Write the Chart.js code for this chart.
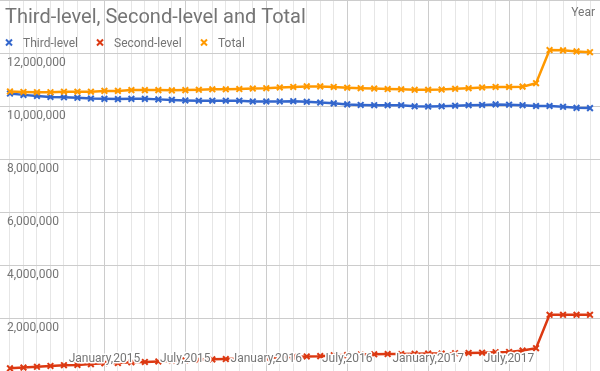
<!DOCTYPE html>
<html>
<head>
<meta charset="utf-8">
<script src="https://cdn.jsdelivr.net/npm/chart.js@4"></script>
<style>
  html, body { margin: 0; padding: 0; background: #fff; }
  #wrap { width: 600px; height: 371px; }
</style>
</head>
<body>
<div id="wrap"><canvas id="chart" width="600" height="371"></canvas></div>
<script>
// months from June 2014 to January 2018
const months = [
  'Jun 2014', 'Jul 2014', 'Aug 2014', 'Sep 2014', 'Oct 2014', 'Nov 2014', 'Dec 2014',
  'Jan 2015', 'Feb 2015', 'Mar 2015', 'Apr 2015', 'May 2015', 'Jun 2015',
  'Jul 2015', 'Aug 2015', 'Sep 2015', 'Oct 2015', 'Nov 2015', 'Dec 2015',
  'Jan 2016', 'Feb 2016', 'Mar 2016', 'Apr 2016', 'May 2016', 'Jun 2016',
  'Jul 2016', 'Aug 2016', 'Sep 2016', 'Oct 2016', 'Nov 2016', 'Dec 2016',
  'Jan 2017', 'Feb 2017', 'Mar 2017', 'Apr 2017', 'May 2017', 'Jun 2017',
  'Jul 2017', 'Aug 2017', 'Sep 2017', 'Oct 2017', 'Nov 2017', 'Dec 2017',
  'Jan 2018'
];

const thirdLevel = [
  10470000, 10420000, 10380000, 10340000, 10330000, 10310000, 10280000,
  10270000, 10260000, 10270000, 10270000, 10250000, 10230000,
  10210000, 10200000, 10200000, 10200000, 10200000, 10170000,
  10170000, 10170000, 10180000, 10160000, 10130000, 10100000,
  10060000, 10040000, 10030000, 10030000, 10030000, 9990000,
  9980000, 9990000, 10010000, 10030000, 10040000, 10060000,
  10050000, 10030000, 10000000, 10000000, 9970000, 9930000,
  9920000
];

const secondLevel = [
  100000, 130000, 160000, 190000, 220000, 230000, 260000,
  290000, 300000, 330000, 340000, 360000, 390000,
  400000, 430000, 440000, 450000, 460000, 480000,
  490000, 520000, 530000, 550000, 560000, 590000,
  600000, 620000, 630000, 640000, 640000, 650000,
  660000, 660000, 670000, 680000, 690000, 710000,
  720000, 770000, 860000, 2120000, 2120000, 2120000,
  2120000
];

const total = [
  10550000, 10530000, 10520000, 10520000, 10540000, 10540000, 10540000,
  10570000, 10570000, 10600000, 10600000, 10600000, 10590000,
  10600000, 10610000, 10630000, 10630000, 10640000, 10660000,
  10670000, 10700000, 10720000, 10740000, 10740000, 10720000,
  10690000, 10670000, 10660000, 10640000, 10630000, 10610000,
  10610000, 10620000, 10650000, 10670000, 10700000, 10720000,
  10720000, 10730000, 10860000, 12110000, 12100000, 12060000,
  12030000
];

const tickMonths = ['Jan 2015', 'Jul 2015', 'Jan 2016', 'Jul 2016', 'Jan 2017', 'Jul 2017'];
const tickLabels = ['January,2015', 'July,2015', 'January,2016', 'July,2016', 'January,2017', 'July,2017'];
const yTicks = [2000000, 4000000, 6000000, 8000000, 10000000, 12000000];

const seriesNames = ['Third-level', 'Second-level', 'Total'];
const seriesColors = ['#3366cc', '#dc3912', '#ff9900'];

const textColor = '#757575';
const majorIdx = tickMonths.map(m => months.indexOf(m));

function fmt(n) {
  return String(n).replace(/\B(?=(\d{3})+(?!\d))/g, ',');
}

function toPoints(values) {
  return values.map((v, i) => ({ x: i, y: v }));
}

function drawCross(ctx, x, y, r, color) {
  ctx.save();
  ctx.strokeStyle = color;
  ctx.lineWidth = 2;
  ctx.beginPath();
  ctx.moveTo(x - r, y - r);
  ctx.lineTo(x + r, y + r);
  ctx.moveTo(x + r, y - r);
  ctx.lineTo(x - r, y + r);
  ctx.stroke();
  ctx.restore();
}

// texts drawn on top of the full-size plot area, like the original
const overlay = {
  id: 'overlay',
  afterDatasetsDraw(chart) {
    const ctx = chart.ctx;
    const xs = chart.scales.x;
    const ys = chart.scales.y;
    ctx.save();
    ctx.fillStyle = textColor;
    ctx.textBaseline = 'alphabetic';

    // y tick labels under their grid lines
    ctx.font = '12px Roboto';
    ctx.textAlign = 'left';
    yTicks.forEach(v => {
      ctx.fillText(fmt(v), 7, ys.getPixelForValue(v) + 13);
    });

    // x tick labels with a white halo
    ctx.textAlign = 'center';
    ctx.lineWidth = 3;
    ctx.lineJoin = 'round';
    ctx.strokeStyle = '#fff';
    majorIdx.forEach((idx, i) => {
      const px = xs.getPixelForValue(idx);
      ctx.strokeText(tickLabels[i], px, 362);
      ctx.fillText(tickLabels[i], px, 362);
    });

    // axis title
    ctx.textAlign = 'right';
    ctx.fillText('Year', 595, 16);

    // chart title
    ctx.textAlign = 'left';
    ctx.font = '20px Roboto';
    ctx.fillText('Third-level, Second-level and Total', 5, 23);

    // legend
    ctx.font = '12px Roboto';
    const legendX = [9, 100, 204];
    seriesNames.forEach((name, i) => {
      drawCross(ctx, legendX[i], 42.5, 3, seriesColors[i]);
      ctx.fillText(name, legendX[i] + 14, 47);
    });
    ctx.restore();
  }
};

const ctx = document.getElementById('chart').getContext('2d');
new Chart(ctx, {
  type: 'line',
  data: {
    datasets: [thirdLevel, secondLevel, total].map((vals, i) => ({
      label: seriesNames[i],
      data: toPoints(vals),
      borderColor: seriesColors[i],
      backgroundColor: seriesColors[i],
      borderWidth: 2.5,
      pointStyle: 'crossRot',
      pointRadius: 4,
      pointBorderWidth: 2,
      tension: 0,
      clip: false,
      order: 2 - i
    }))
  },
  options: {
    responsive: false,
    animation: false,
    layout: { padding: 0, autoPadding: false },
    plugins: {
      legend: { display: false },
      title: { display: false },
      tooltip: { enabled: false }
    },
    scales: {
      x: {
        type: 'linear',
        min: -0.74,
        max: 43.74,
        border: { display: false },
        ticks: { display: false, stepSize: 1, includeBounds: false },
        grid: {
          drawTicks: false,
          color: c => majorIdx.includes(c.tick.value) ? '#cccccc' : '#e6e6e6',
          lineWidth: 1
        }
      },
      y: {
        min: 0,
        max: 14000000,
        border: { display: false },
        ticks: { display: false, stepSize: 2000000 },
        grid: { drawTicks: false, color: '#cccccc', lineWidth: 1 }
      }
    }
  },
  plugins: [overlay]
});
</script>
</body>
</html>
